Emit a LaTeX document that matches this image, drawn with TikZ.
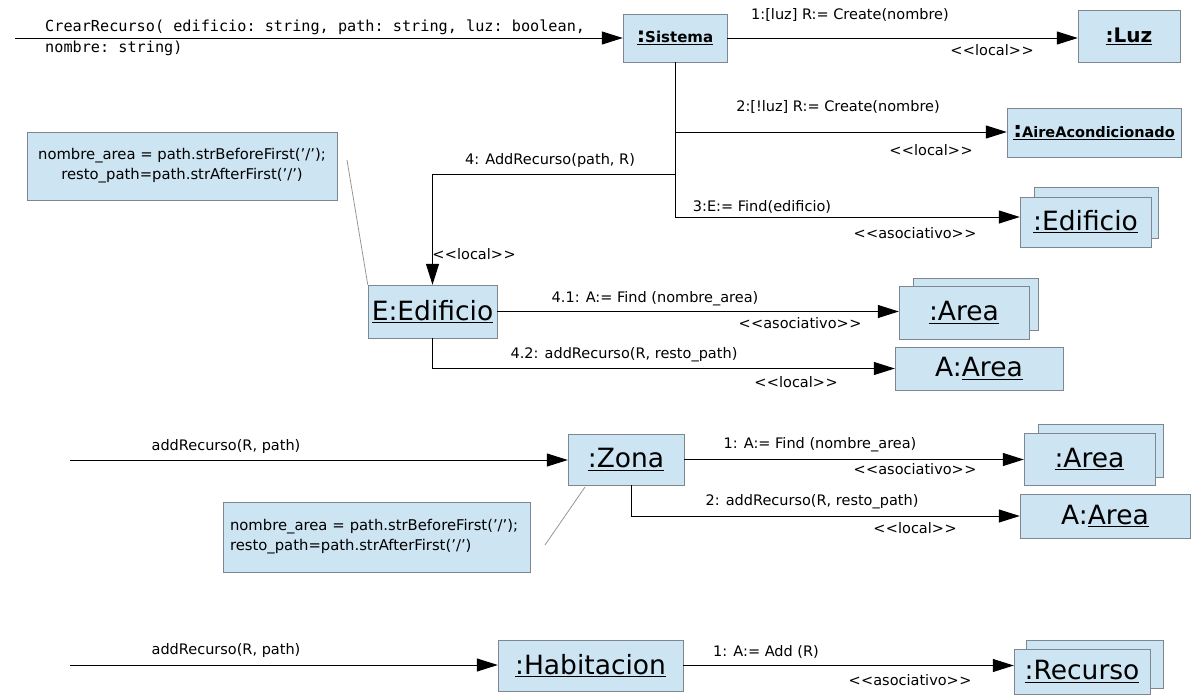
\documentclass[tikz,border=0pt]{standalone}
\usepackage{fontspec}
\setmainfont{DejaVu Sans}
\setmonofont{DejaVu Sans Mono}
\usetikzlibrary{arrows.meta,positioning}
\definecolor{boxfill}{RGB}{205,228,243}
\definecolor{boxline}{RGB}{125,135,145}
\definecolor{noteline}{RGB}{150,150,150}
\newcommand{\stereo}[1]{<\kern0.5pt<#1>\kern0.5pt>}
\begin{document}
\begin{tikzpicture}[x=1pt,y=-1pt,
  obj/.style={draw=boxline,fill=boxfill,inner sep=0pt},
  wire/.style={line width=1pt},
  msg/.style={wire,-{Triangle[length=21pt,width=13pt]}},
  lbl/.style={font=\fontsize{14.5}{17}\selectfont,inner sep=0pt},
  big/.style={font=\fontsize{26.5}{30}\selectfont},
  notebox/.style={obj,font=\fontsize{14.8}{20}\selectfont},
  link/.style={draw=noteline,line width=0.8pt}]
  \useasboundingbox (0,0) rectangle (1194,696);

  % Sistema and the objects it creates or finds
  \node[obj,minimum width=104pt,minimum height=48pt,font=\bfseries\fontsize{15}{17}\selectfont] (sistema) at (675,38) {\underline{{\fontsize{21}{21}\selectfont:}Sistema}};
  \node[obj,minimum width=102pt,minimum height=52pt,font=\bfseries\fontsize{20}{22}\selectfont] (luz) at (1129,36) {\underline{:Luz}};
  \node[obj,minimum width=174pt,minimum height=49pt,font=\bfseries\fontsize{14.5}{16}\selectfont] (aire) at (1094,132.5) {\underline{{\fontsize{22}{22}\selectfont:}AireAcondicionado}};
  \node[obj,minimum width=124pt,minimum height=51pt] (edifB) at (1096,212.5) {};
  \node[obj,big,minimum width=131pt,minimum height=50pt] (edifF) at (1085.5,222) {\underline{:Edificio}};
  \node[obj,big,minimum width=129pt,minimum height=53pt] (edif) at (432.5,311.5) {\underline{E:Edificio}};
  \node[obj,minimum width=125pt,minimum height=52pt] (areaB) at (975.5,304) {};
  \node[obj,big,minimum width=130pt,minimum height=53pt] (areaF) at (964,312.5) {\underline{:Area}};
  \node[obj,big,minimum width=168pt,minimum height=43pt] (aarea) at (979,368.5) {A:\underline{Area}};
  \node[notebox,minimum width=310pt,minimum height=68pt,align=center] (note1) at (182,166) {nombre\_area = path.strBeforeFirst('/');\\resto\_path=path.strAfterFirst('/')};

  % messages of Sistema
  \coordinate (in1) at (15,38);
  \coordinate (b2) at (675,132);
  \coordinate (b4) at (675,174);
  \coordinate (b3) at (675,217);
  \coordinate (n1a) at (347,160);
  \draw[msg] (in1) -- (sistema.west);
  \node[font=\ttfamily\fontsize{15.2}{20.5}\selectfont,align=left,anchor=north west,inner sep=0pt] (call1) at (45,20) {CrearRecurso( edificio: string, path: string, luz: boolean,\\nombre: string)};
  \draw[msg] (sistema.east) -- (sistema.east -| luz.west);
  \draw[wire] (sistema.south) -- (b3);
  \draw[msg] (b2) -- (b2 -| aire.west);
  \draw[msg] (b3) -- (b3 -| edifF.west);
  \draw[msg] (b4) -| (edif.north);
  \draw[msg] (edif.east) -- (edif.east -| areaF.west);
  \draw[msg] (edif.south) |- (aarea.west);
  \draw[link] (n1a) -- (edif.north west);

  \node[lbl] (m1) at (850,15) {1:[luz] R:= Create(nombre)};
  \node[lbl] (s1) at (992,50) {\stereo{local}};
  \node[lbl] (m2) at (838,107) {2:[!luz] R:= Create(nombre)};
  \node[lbl] (s2) at (931,150) {\stereo{local}};
  \node[lbl] (m4) at (550,160) {4: AddRecurso(path, R)};
  \node[lbl] (s4) at (474,254) {\stereo{local}};
  \node[lbl] (m3) at (762,207) {3:E:= Find(edificio)};
  \node[lbl] (s3) at (915,233) {\stereo{asociativo}};
  \node[lbl] (m41) at (655,299) {4.1: A:= Find (nombre\_area)};
  \node[lbl] (s41) at (800,323) {\stereo{asociativo}};
  \node[lbl] (m42) at (624,355) {4.2: addRecurso(R, resto\_path)};
  \node[lbl] (s42) at (796,382) {\stereo{local}};

  % Zona
  \node[obj,big,minimum width=116pt,minimum height=51pt] (zona) at (626,459.5) {\underline{:Zona}};
  \node[obj,minimum width=125pt,minimum height=53pt] (areaB2) at (1100.5,450.5) {};
  \node[obj,big,minimum width=131pt,minimum height=52pt] (areaF2) at (1089.5,459) {\underline{:Area}};
  \node[obj,big,minimum width=170pt,minimum height=44pt] (aarea2) at (1105,516) {A:\underline{Area}};
  \node[notebox,minimum width=307pt,minimum height=70pt,text width=293pt,align=left] (note2) at (376.5,537) {nombre\_area = path.strBeforeFirst('/');\\resto\_path=path.strAfterFirst('/')};

  \coordinate (in2) at (70,460);
  \coordinate (n2a) at (545,545);
  \coordinate (n2b) at (585,487);
  \draw[msg] (in2) -- (in2 -| zona.west);
  \draw[msg] (zona.east) -- (zona.east -| areaF2.west);
  \draw[msg] ([xshift=5pt]zona.south) |- (aarea2.west);
  \draw[link] (n2a) -- (n2b);

  \node[lbl] (z0) at (226,446) {addRecurso(R, path)};
  \node[lbl] (z1) at (820,445) {1: A:= Find (nombre\_area)};
  \node[lbl] (zs1) at (915,469) {\stereo{asociativo}};
  \node[lbl] (z2) at (812,502) {2: addRecurso(R, resto\_path)};
  \node[lbl] (zs2) at (915,528) {\stereo{local}};

  % Habitacion
  \node[obj,big,minimum width=185pt,minimum height=51pt] (hab) at (590.5,665.5) {\underline{:Habitacion}};
  \node[obj,minimum width=137pt,minimum height=48pt] (recB) at (1094.5,664) {};
  \node[obj,big,minimum width=136pt,minimum height=45pt] (recF) at (1082,671.5) {\underline{:Recurso}};

  \coordinate (in3) at (70,665);
  \draw[msg] (in3) -- (in3 -| hab.west);
  \draw[msg] (hab.east) -- (hab.east -| recF.west);

  \node[lbl] (h0) at (226,650) {addRecurso(R, path)};
  \node[lbl] (h1) at (766,652) {1: A:= Add (R)};
  \node[lbl] (hs1) at (910,680) {\stereo{asociativo}};
\end{tikzpicture}
\end{document}
